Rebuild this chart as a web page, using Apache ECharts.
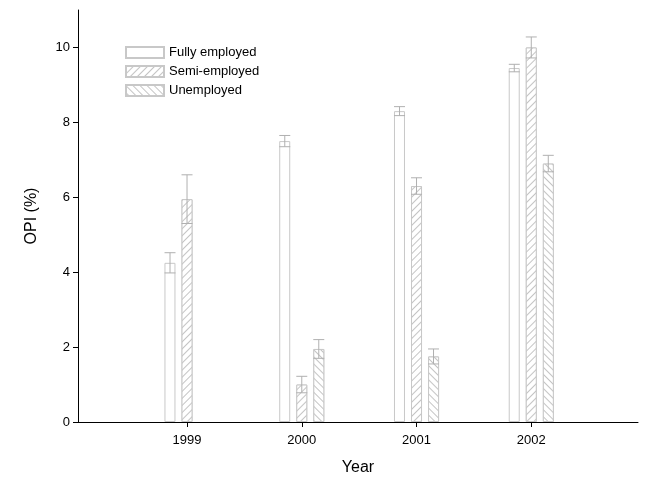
<!doctype html>
<html>
<head>
<meta charset="UTF-8">
<script src="https://cdn.jsdelivr.net/npm/echarts@6/dist/echarts.min.js"></script>
</head>
<body style="margin:0">
<div id="chart" style="width:647px;height:490px;background:#fff"></div>
<script>
var years = [1999, 2000, 2001, 2002];
var seriesNames = ['Fully employed', 'Semi-employed', 'Unemployed'];
var fullyVals = [4.25, 7.5, 8.3, 9.45];
var fullyErr = [0.27, 0.15, 0.12, 0.1];
var semiVals = [5.95, 1.0, 6.3, 10.0];
var semiErr = [0.65, 0.22, 0.22, 0.28];
var unempVals = [null, 1.95, 1.75, 6.9];
var unempErr = [null, 0.25, 0.2, 0.22];
var yTicks = [0, 2, 4, 6, 8, 10];

var chart = echarts.init(document.getElementById('chart'));
var barW = 11, step = 17;
var decals = [
    null,
    { symbol: 'rect', color: '#c4c4c4', dashArrayX: [1, 0], dashArrayY: [1, 3.5], rotation: -Math.PI / 4, backgroundColor: '#fff' },
    { symbol: 'rect', color: '#c4c4c4', dashArrayX: [1, 0], dashArrayY: [1, 3.5], rotation: Math.PI / 4, backgroundColor: '#fff' }
];
var allVals = [fullyVals, semiVals, unempVals];
var allErr = [fullyErr, semiErr, unempErr];

var series = [];
seriesNames.forEach(function (name, s) {
    var st = { color: '#fff', borderColor: '#c8c8c8', borderWidth: 1 };
    if (decals[s]) st.decal = decals[s];
    series.push({
        name: name, type: 'bar', barWidth: barW, barGap: '55%',
        itemStyle: st,
        data: years.map(function (y, i) { return [y, allVals[s][i] == null ? '-' : allVals[s][i]]; })
    });
});
// error bars
var errData = [];
years.forEach(function (y, i) {
    for (var s = 0; s < 3; s++) {
        if (allErr[s][i]) errData.push([y, allVals[s][i], allErr[s][i], s]);
    }
});
series.push({
    type: 'custom', silent: true,
    renderItem: function (params, api) {
        var x = api.value(0), v = api.value(1), e = api.value(2), s = api.value(3);
        var p = api.coord([x, v]);
        var cx = p[0] + (s - 1) * step;
        var top = api.coord([x, v + e])[1], bot = api.coord([x, v - e])[1];
        var hw = barW / 2;
        var style = { stroke: '#b0b0b0', lineWidth: 1 };
        return { type: 'group', children: [
            { type: 'line', shape: { x1: cx, y1: top, x2: cx, y2: bot }, style: style },
            { type: 'line', shape: { x1: cx - hw, y1: top, x2: cx + hw, y2: top }, style: style },
            { type: 'line', shape: { x1: cx - hw, y1: bot, x2: cx + hw, y2: bot }, style: style }
        ]};
    },
    data: errData, z: 5
});

chart.setOption({
    animation: false,
    textStyle: { fontFamily: 'Liberation Sans, Arial, sans-serif' },
    grid: { left: 78, right: 9, top: 10, bottom: 68 },
    legend: {
        orient: 'vertical', left: 120, top: 41, itemWidth: 38, itemHeight: 11, itemGap: 6,
        icon: 'rect', data: seriesNames,
        textStyle: { fontSize: 13, color: '#000' }
    },
    xAxis: {
        type: 'value', min: 1998.05, max: 2002.93,
        name: 'Year', nameLocation: 'middle', nameGap: 38,
        nameTextStyle: { fontSize: 16, color: '#000' },
        axisLine: { lineStyle: { color: '#000' } },
        axisTick: { customValues: years, length: 5, lineStyle: { color: '#000' } },
        axisLabel: { customValues: years, color: '#000', fontSize: 13, margin: 12,
            formatter: function (v) { return String(v); } },
        splitLine: { show: false }
    },
    yAxis: {
        type: 'value', min: 0, max: 11,
        name: 'OPI (%)', nameLocation: 'middle', nameGap: 38,
        nameTextStyle: { fontSize: 16, color: '#000' },
        axisLine: { show: true, lineStyle: { color: '#000' } },
        axisTick: { show: true, customValues: yTicks, length: 5, lineStyle: { color: '#000' } },
        axisLabel: { customValues: yTicks, color: '#000', fontSize: 13 },
        splitLine: { show: false }
    },
    series: series
});
</script>
</body>
</html>
